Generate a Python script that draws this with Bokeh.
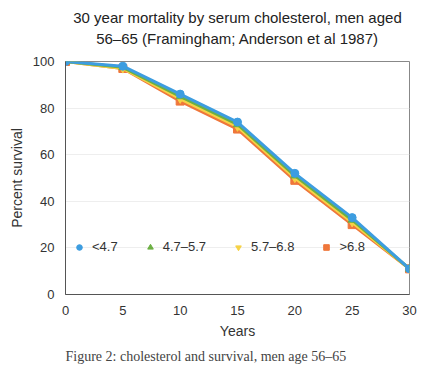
from bokeh.plotting import figure
from bokeh.models import Legend, LegendItem, Title, FixedTicker
from bokeh.embed import file_html
from bokeh.resources import INLINE

years = [0, 5, 10, 15, 20, 25, 30]
series_names = ["<4.7", "4.7–5.7", "5.7–6.8", ">6.8"]
s_lt47 = [100, 98, 86, 74, 52, 33, 11]
s_47_57 = [100, 97.5, 85, 73, 51, 32, 11]
s_57_68 = [100, 97, 84, 72, 50, 31, 11]
s_gt68 = [100, 97, 83, 71, 49, 30, 11]
x_ticks = [0, 5, 10, 15, 20, 25, 30]
y_ticks = [0, 20, 40, 60, 80, 100]
title_lines = ["30 year mortality by serum cholesterol, men aged",
               "56–65 (Framingham; Anderson et al 1987)"]

values = [s_lt47, s_47_57, s_57_68, s_gt68]
colors = ["#3d9de0", "#6cb043", "#f6d245", "#ef773b"]
markers = ["circle", "triangle", "inverted_triangle", "square"]

FONT = "Liberation Sans"

p = figure(frame_width=344, frame_height=233, x_range=(0, 30), y_range=(0, 100),
           output_backend="svg", toolbar_location=None, title=None,
           min_border_left=65, min_border_top=61, min_border_right=18, min_border_bottom=76)

# spacer between plot and title, then second line, then first line on top
p.add_layout(Title(text=" ", text_font_size="11px", standoff=0), "above")
p.add_layout(Title(text=title_lines[1], align="center", text_font=FONT, text_font_size="15px",
                   text_font_style="normal", text_color="#222222", standoff=2), "above")
p.add_layout(Title(text=title_lines[0], align="center", text_font=FONT, text_font_size="15px",
                   text_font_style="normal", text_color="#222222", standoff=2), "above")

p.outline_line_color = "#888888"
p.xgrid.grid_line_color = None
p.ygrid.grid_line_color = "#eeeeee"
p.background_fill_color = "white"

for ax in (p.xaxis[0], p.yaxis[0]):
    ax.major_tick_line_color = None
    ax.minor_tick_line_color = None
    ax.axis_line_color = "#555555"
    ax.major_label_text_font = FONT
    ax.major_label_text_font_size = "13px"
    ax.major_label_text_color = "#333333"
    ax.axis_label_text_font = FONT
    ax.axis_label_text_font_size = "14px"
    ax.axis_label_text_font_style = "normal"
    ax.axis_label_text_color = "#333333"

p.xaxis.ticker = FixedTicker(ticks=x_ticks)
p.yaxis.ticker = FixedTicker(ticks=y_ticks)
p.xaxis.axis_label = "Years"
p.yaxis.axis_label = "Percent survival"

marker_renderers = {}
for i in reversed(range(4)):
    p.line(years, values[i], line_color=colors[i], line_width=3)
    r = p.scatter(years, values[i], marker=markers[i], size=8,
                  fill_color=colors[i], line_color=colors[i])
    marker_renderers[i] = r

items = [LegendItem(label=series_names[i], renderers=[marker_renderers[i]]) for i in range(4)]
legend = Legend(items=items, orientation="horizontal", location=(7, 40),
                border_line_color=None, background_fill_alpha=0,
                padding=0, margin=0, spacing=25, glyph_width=14, glyph_height=14,
                label_standoff=6, label_text_font=FONT, label_text_font_size="13px",
                label_text_color="#333333")
p.add_layout(legend, "center")

cap = Title(text="Figure 2: cholesterol and survival, men age 56–65", align="left",
            offset=0, text_font="Liberation Serif", text_font_size="14px",
            text_font_style="normal", text_color="#444444")
p.add_layout(cap, "below")

open("out.html", "w").write(file_html(p, INLINE))
